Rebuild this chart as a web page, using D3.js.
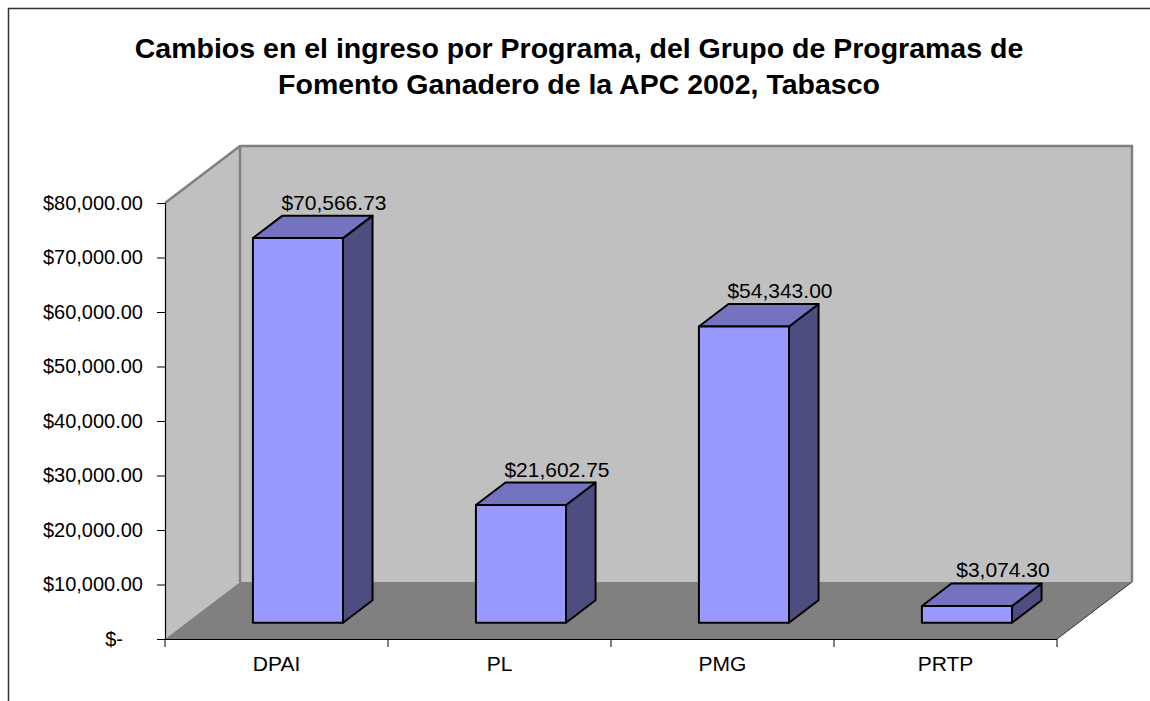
<!DOCTYPE html>
<html>
<head>
<meta charset="utf-8">
<script src="https://cdn.jsdelivr.net/npm/d3@7"></script>
<style>
  html, body { margin: 0; padding: 0; background: #fff; }
  svg { display: block; font-family: "Liberation Sans", Arial, sans-serif; }
</style>
</head>
<body>
<div id="chart"></div>
<script>
// ── Data ───────────────────────────────────────────────────────────────────
const categories = ["DPAI", "PL", "PMG", "PRTP"];
const values = [70566.73, 21602.75, 54343.0, 3074.3];
const tickValues = [0, 10000, 20000, 30000, 40000, 50000, 60000, 70000, 80000];
const titleLines = [
  "Cambios en el ingreso por Programa, del Grupo de Programas de",
  "Fomento Ganadero de la APC 2002, Tabasco",
];

// ── Layout ─────────────────────────────────────────────────────────────────
const W = 1150, H = 701;
const plot = { left: 165, right: 1057, bottom: 639, top: 203 };
const DX = 75, DY = 57;           // depth offset of back wall
const zFront = 0.286, zBack = 0.68; // bar depth position (0 front .. 1 back)

const svg = d3.select("#chart").append("svg").attr("width", W).attr("height", H);

// outer frame
svg.append("rect")
  .attr("x", 8.5).attr("y", 8.5)
  .attr("width", W).attr("height", H)
  .attr("fill", "#fff").attr("stroke", "#333").attr("stroke-width", 1.5);

// ── Scales ─────────────────────────────────────────────────────────────────
const x = d3.scaleBand().domain(categories).range([plot.left, plot.right]).padding(0);
const y = d3.scaleLinear().domain([0, 80000]).range([plot.bottom, plot.top]);

const off = (z) => [z * DX, -z * DY];
const pt = (p, z) => [p[0] + z * DX, p[1] - z * DY];
const poly = (pts) => pts.map((p) => p.join(",")).join(" ");

// ── Walls ──────────────────────────────────────────────────────────────────
const y0 = y(0), yTop = y(80000);
// left side wall
svg.append("polygon")
  .attr("points", poly([[plot.left, y0], [plot.left, yTop], pt([plot.left, yTop], 1), pt([plot.left, y0], 1)]))
  .attr("fill", "#c0c0c0");
// back wall
svg.append("polygon")
  .attr("points", poly([pt([plot.left, y0], 1), pt([plot.left, yTop], 1), pt([plot.right, yTop], 1), pt([plot.right, y0], 1)]))
  .attr("fill", "#c0c0c0");
// floor
svg.append("polygon")
  .attr("points", poly([[plot.left, y0], pt([plot.left, y0], 1), pt([plot.right, y0], 1), [plot.right, y0]]))
  .attr("fill", "#808080");

// wall edges
const edge = svg.append("g").attr("fill", "none").attr("stroke", "#808080").attr("stroke-width", 2.5);
edge.append("polyline")
  .attr("points", poly([[plot.left, yTop], pt([plot.left, yTop], 1), pt([plot.right, yTop], 1), pt([plot.right, y0], 1)]));
edge.append("line")
  .attr("x1", pt([plot.left, yTop], 1)[0]).attr("y1", pt([plot.left, yTop], 1)[1])
  .attr("x2", pt([plot.left, y0], 1)[0]).attr("y2", pt([plot.left, y0], 1)[1]);
svg.append("line")
  .attr("x1", plot.right).attr("y1", y0)
  .attr("x2", pt([plot.right, y0], 1)[0]).attr("y2", pt([plot.right, y0], 1)[1])
  .attr("stroke", "#333").attr("stroke-width", 1);

// ── Bars ───────────────────────────────────────────────────────────────────
const barW = x.bandwidth() * 0.404;
const data = categories.map((c, i) => ({ cat: c, value: values[i] }));

const bars = svg.selectAll(".bar").data(data).join("g").attr("class", "bar")
  .attr("stroke", "#000").attr("stroke-width", 2).attr("stroke-linejoin", "round");

bars.each(function (d) {
  const g = d3.select(this);
  const cx = x(d.cat) + x.bandwidth() / 2;
  const [fx, fy] = off(zFront);
  const [bx, by] = off(zBack);
  const l = cx - barW / 2, r = cx + barW / 2;
  const bot = y0, top = y(d.value);
  const F = (px, py) => [px + fx, py + fy];
  const B = (px, py) => [px + bx, py + by];
  // side
  g.append("polygon").attr("fill", "#4d4d80")
    .attr("points", poly([F(r, bot), F(r, top), B(r, top), B(r, bot)]));
  // top
  g.append("polygon").attr("fill", "#7373bf")
    .attr("points", poly([F(l, top), B(l, top), B(r, top), F(r, top)]));
  // front
  g.append("polygon").attr("fill", "#9999ff")
    .attr("points", poly([F(l, bot), F(l, top), F(r, top), F(r, bot)]));
});

// ── Value labels ───────────────────────────────────────────────────────────
const fmt = d3.format("$,.2f");
svg.selectAll(".bar-value").data(data).join("text")
  .attr("class", "bar-value")
  .attr("x", (d) => x(d.cat) + x.bandwidth() / 2 + off(zFront)[0] + 36)
  .attr("y", (d) => y(d.value) + off(zBack)[1] - 6)
  .attr("text-anchor", "middle")
  .style("font-size", "21px")
  .text((d) => fmt(d.value));

// ── Axes ───────────────────────────────────────────────────────────────────
const yAxis = svg.append("g")
  .attr("transform", `translate(${plot.left},0)`)
  .call(d3.axisLeft(y).tickValues(tickValues).tickSize(8).tickPadding(14)
    .tickFormat((d) => (d === 0 ? "$-" : fmt(d))));
yAxis.select(".domain").attr("stroke", "#000").attr("stroke-width", 1.2);
yAxis.selectAll(".tick line").attr("stroke", "#000");
yAxis.selectAll(".tick text")
  .style("font-size", "20px").attr("fill", "#000")
  .attr("font-family", "Liberation Sans, Arial, sans-serif")
  .attr("dx", (d) => (d === 0 ? -20 : 0));

const xAxis = svg.append("g")
  .attr("transform", `translate(0,${plot.bottom})`)
  .call(d3.axisBottom(x).tickSize(0).tickPadding(17));
xAxis.select(".domain").attr("stroke", "#000").attr("stroke-width", 1.2);
xAxis.selectAll(".tick text")
  .style("font-size", "21px").attr("fill", "#000")
  .attr("font-family", "Liberation Sans, Arial, sans-serif");
// category separators
xAxis.selectAll(".sep")
  .data([plot.left, ...categories.map((c) => x(c) + x.bandwidth())])
  .join("line").attr("class", "sep")
  .attr("x1", (d) => d).attr("x2", (d) => d)
  .attr("y1", 0).attr("y2", 8)
  .attr("stroke", "#000");

// ── Title ──────────────────────────────────────────────────────────────────
svg.append("text")
  .attr("text-anchor", "middle")
  .style("font-size", "28.5px").style("font-weight", "bold")
  .selectAll("tspan").data(titleLines).join("tspan")
  .attr("x", 579)
  .attr("y", (d, i) => 58 + i * 36)
  .text((d) => d);
</script>
</body>
</html>
